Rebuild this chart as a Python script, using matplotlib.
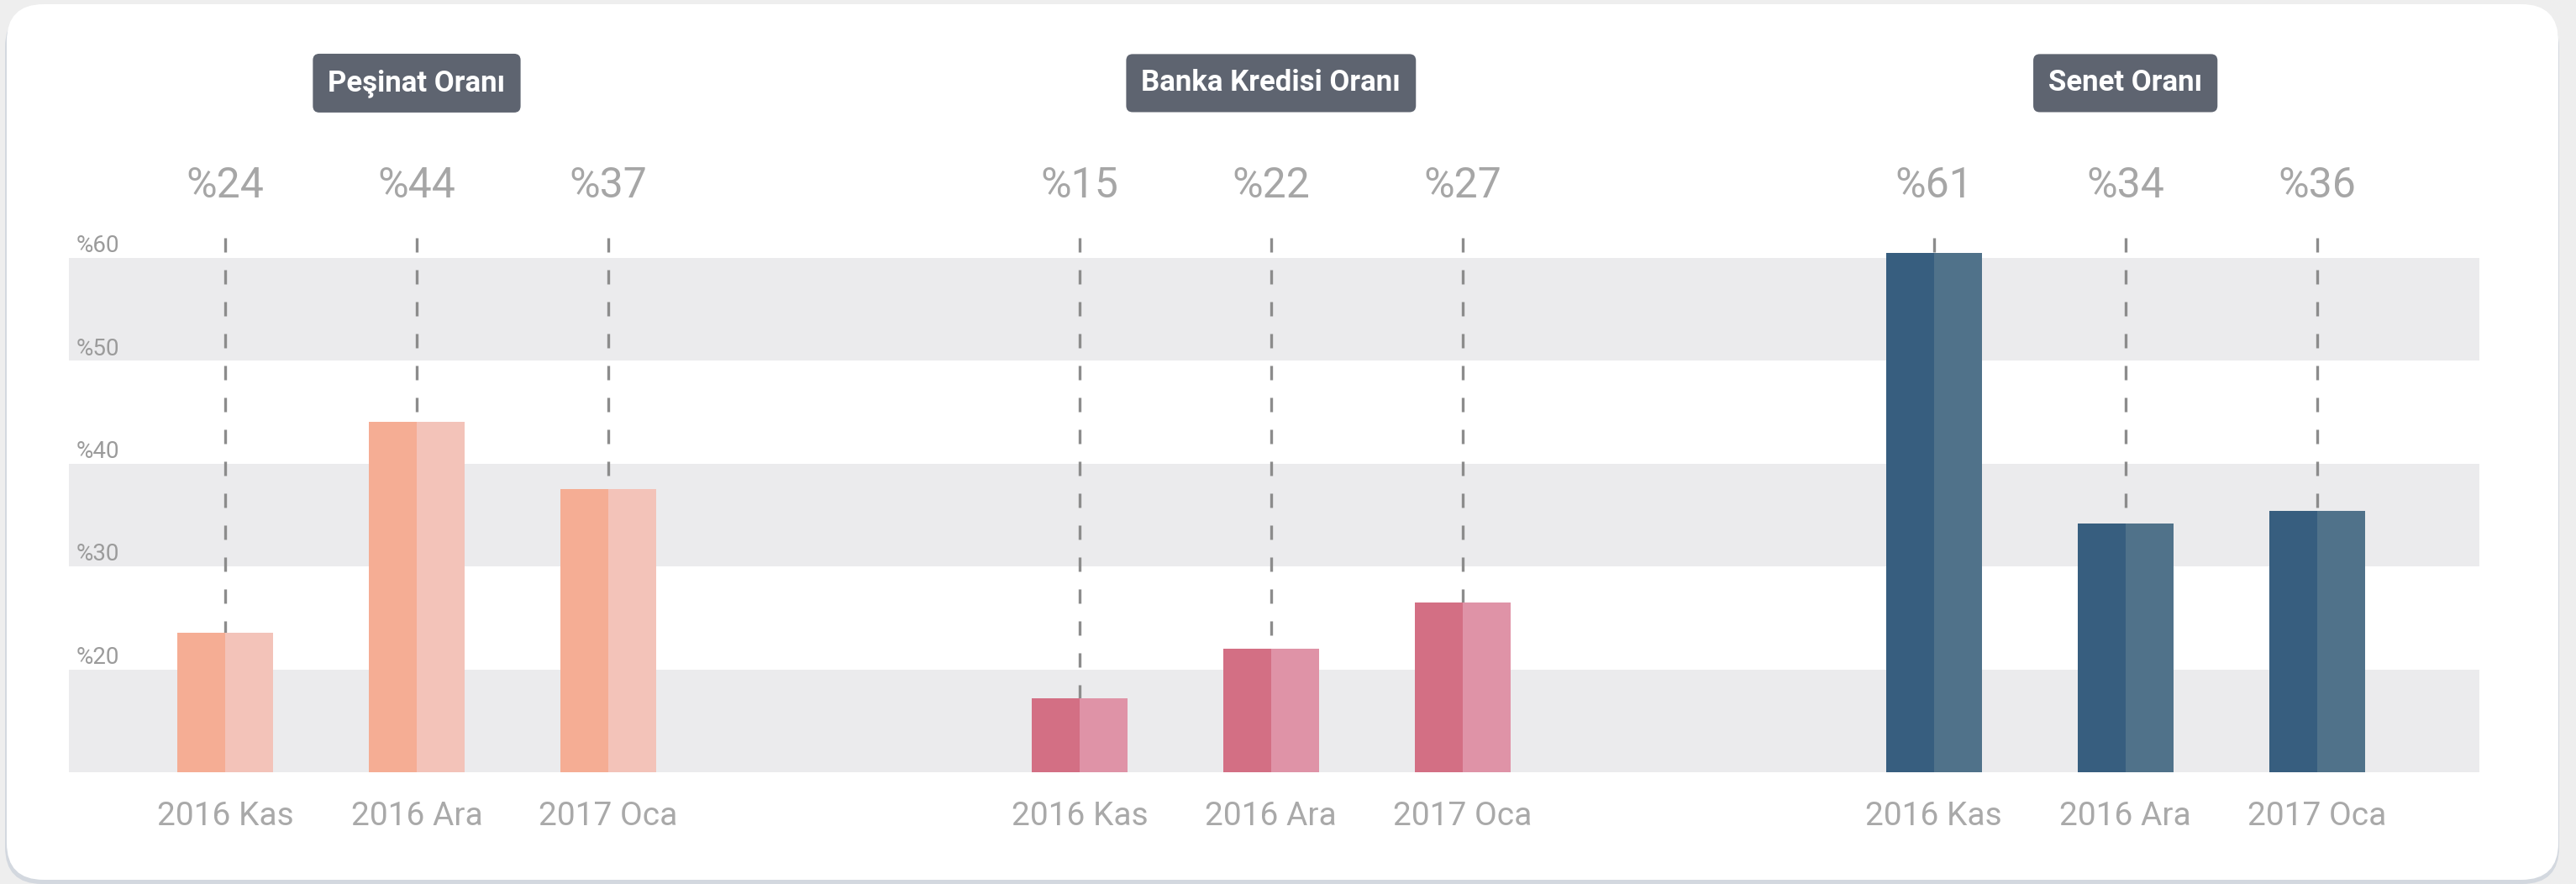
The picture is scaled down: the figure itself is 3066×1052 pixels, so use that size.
import matplotlib.pyplot as plt
from matplotlib.patches import FancyBboxPatch

plt.rcParams['font.family'] = ['Roboto', 'DejaVu Sans']

# data
categories = ["2016 Kas", "2016 Ara", "2017 Oca"]
group_titles = ["Peşinat Oranı", "Banka Kredisi Oranı", "Senet Oranı"]
pesinat = [24, 44, 37]
banka = [15, 22, 27]
senet = [61, 34, 36]
# bar tops as drawn in the picture (the %15 bar is drawn a bit taller)
pesinat_bars = [23.6, 44.1, 37.5]
banka_bars = [17.2, 22.0, 26.5]
senet_bars = [60.5, 34.2, 35.4]
y_ticks = [20, 30, 40, 50, 60]
y_base = 10

labels_all = [pesinat, banka, senet]
bars_all = [pesinat_bars, banka_bars, senet_bars]
colors = [("#f5ad94", "#f3c3b9"), ("#d36f84", "#df93a7"), ("#375e7f", "#50728a")]

fig = plt.figure(figsize=(30.66, 10.52), dpi=100)
fig.patch.set_facecolor("#eeeeee")

# card background with shadow (inches = px / 100)
shadow = FancyBboxPatch((0.06, 0.0), 30.40, 10.40,
                        boxstyle="round,pad=0,rounding_size=0.44",
                        transform=fig.dpi_scale_trans, facecolor="#d3d8df",
                        edgecolor="none", zorder=-2)
card = FancyBboxPatch((0.08, 0.05), 30.37, 10.42,
                      boxstyle="round,pad=0,rounding_size=0.44",
                      transform=fig.dpi_scale_trans, facecolor="white",
                      edgecolor="none", zorder=-1)
fig.patches.extend([shadow, card])

ax = fig.add_axes([81.5 / 3066, (1052 - 919) / 1052,
                   (2951 - 81.5) / 3066, (919 - 307) / 1052])
ax.set_facecolor("none")
ax.set_xlim(-0.818, 11.768)
ax.set_ylim(y_base, 60)
for s in ax.spines.values():
    s.set_visible(False)
ax.set_xticks([])
ax.set_yticks([])

# alternating bands
for lo in (10, 30, 50):
    ax.axhspan(lo, lo + 10, color="#ebebed", lw=0, zorder=0)

# y labels
for t in y_ticks:
    ax.text(0.0033, t + 0.55, f"%{t}", transform=ax.get_yaxis_transform(),
            fontsize=20, color="#9b9b9b", ha="left", va="baseline")

group_gap = 4.46
bw = 0.25
lw = 2.4
for g in range(3):
    xs = [g * group_gap + i for i in range(3)]
    heights = [h - y_base for h in bars_all[g]]
    c_dark, c_light = colors[g]
    left = ax.bar([x - bw / 2 for x in xs], heights, width=bw, bottom=y_base,
                  color=c_dark, zorder=3)
    right = ax.bar([x + bw / 2 for x in xs], heights, width=bw, bottom=y_base,
                   color=c_light, zorder=3)
    for p in list(left) + list(right):
        p.set_clip_on(False)
    for x, v, h, cat in zip(xs, labels_all[g], bars_all[g], categories):
        ax.plot([x, x], [62, h], color="#8c8c8c", lw=lw,
                linestyle=(0, (17 / 1.389 / lw, 21 / 1.389 / lw)),
                clip_on=False, zorder=2, solid_capstyle="butt",
                dash_capstyle="butt")
        ax.text(x, 67, f"%{v}", fontsize=36, color="#a6a6a6",
                ha="center", va="center", clip_on=False)
        ax.text(x, 5.75, cat, fontsize=28, color="#a9a9a9",
                ha="center", va="center", clip_on=False)
    ax.text(xs[1], 77, group_titles[g], fontsize=25, fontweight="bold",
            color="white", ha="center", va="center", clip_on=False,
            bbox=dict(boxstyle="round,pad=0.52,rounding_size=0.22",
                      facecolor="#5e6470", edgecolor="none"))

fig.savefig("out.png", dpi=100, facecolor=fig.get_facecolor())
